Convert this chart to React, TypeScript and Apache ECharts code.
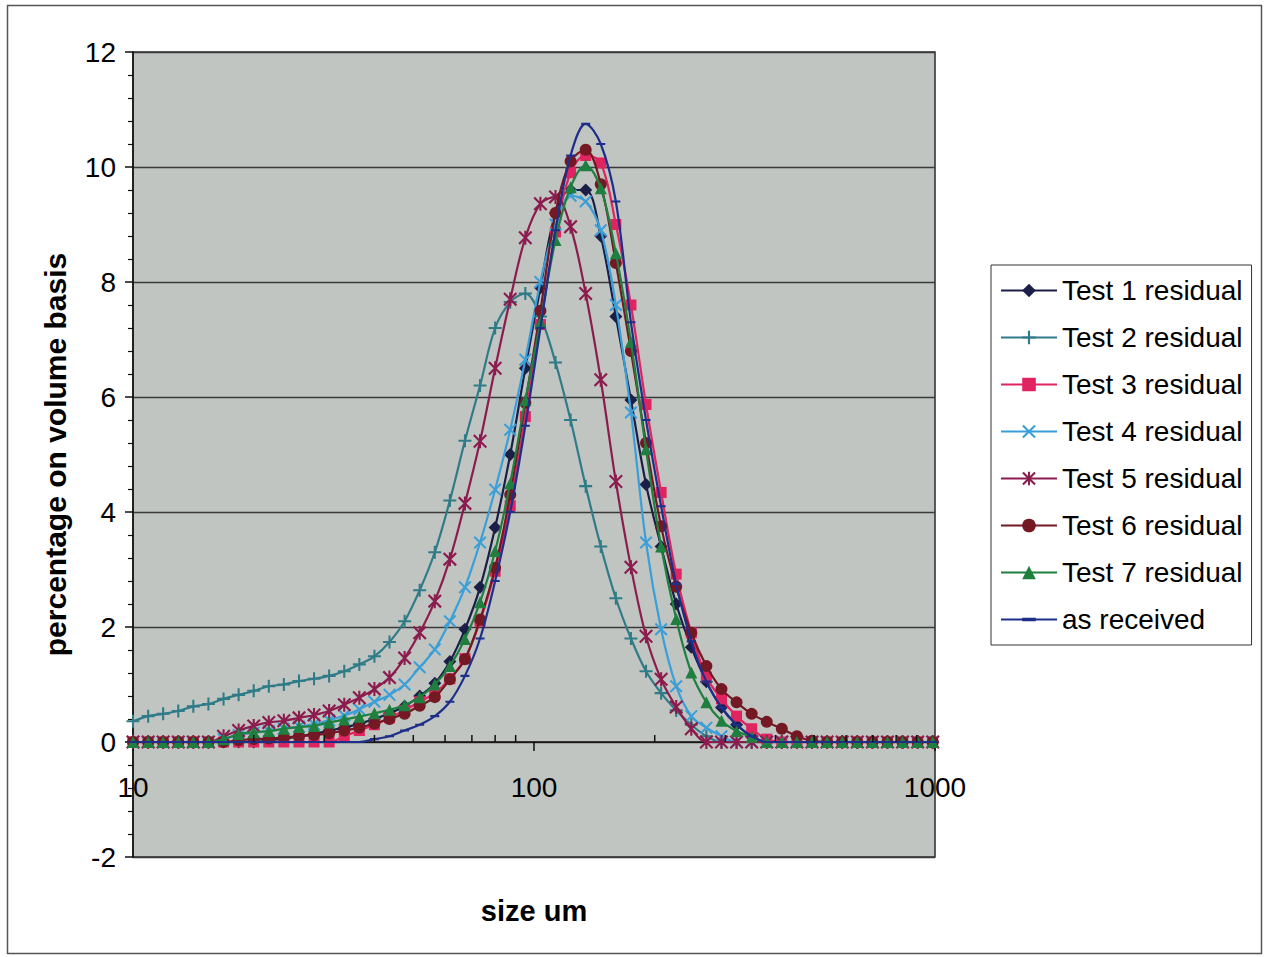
import React, { useEffect, useRef } from "react";
import * as echarts from "echarts";

const sizes = [
  10.0, 10.91, 11.89, 12.97, 14.14, 15.42, 16.82, 18.34, 20.0, 21.81,
  23.78, 25.94, 28.28, 30.84, 33.64, 36.68, 40.0, 43.62, 47.57, 51.87,
  56.57, 61.69, 67.27, 73.36, 80.0, 87.24, 95.14, 103.75, 113.14, 123.38,
  134.54, 146.72, 160.0, 174.48, 190.27, 207.5, 226.27, 246.75, 269.09, 293.44,
  320.0, 348.97, 380.55, 415.0, 452.55, 493.5, 538.17, 586.89, 640.0, 697.92,
  761.08, 829.99, 905.1, 987.02,
];

const test1 = [
  0, 0, 0, 0, 0, 0, 0, 0, 0,
  0.03, 0.06, 0.1, 0.14, 0.2, 0.25, 0.32, 0.4, 0.5, 0.62,
  0.8, 1.02, 1.4, 1.96, 2.69, 3.73, 5.0, 6.5, 7.9, 9.2,
  9.6, 9.6, 8.8, 7.4, 5.95, 4.48, 3.4, 2.4, 1.65, 1.05,
  0.6, 0.3, 0.1,
  0, 0, 0, 0, 0, 0, 0, 0, 0, 0, 0, 0,
];
const test2 = [
  0.36, 0.45, 0.49, 0.54, 0.62, 0.66, 0.75, 0.82, 0.89, 0.97,
  1.0, 1.06, 1.1, 1.15, 1.23, 1.35, 1.49, 1.74, 2.1, 2.64,
  3.3, 4.2, 5.24, 6.2, 7.2, 7.65, 7.8, 7.4, 6.6, 5.6,
  4.45, 3.4, 2.5, 1.8, 1.23, 0.85, 0.55, 0.3, 0.1,
  0, 0, 0, 0, 0, 0, 0, 0, 0, 0, 0, 0, 0, 0, 0,
];
const test3 = [
  0, 0, 0, 0, 0, 0, 0, 0, 0, 0, 0, 0, 0, 0,
  0.1, 0.2, 0.3, 0.42, 0.55, 0.7, 0.85, 1.1, 1.45, 2.1,
  2.97, 4.11, 5.66, 7.26, 8.87, 9.9, 10.2, 10.07, 9.0, 7.6,
  5.87, 4.34, 2.92, 1.9, 1.13, 0.75, 0.45, 0.23, 0.05,
  0, 0, 0, 0, 0, 0, 0, 0, 0, 0, 0,
];
const test4 = [
  0, 0, 0, 0, 0, 0,
  0.05, 0.12, 0.16, 0.19, 0.23, 0.27, 0.31, 0.38, 0.46, 0.57,
  0.7, 0.82, 1.0, 1.3, 1.61, 2.1, 2.69, 3.47, 4.39, 5.43,
  6.65, 8.0, 9.0, 9.5, 9.4, 8.9, 7.6, 5.73, 3.47, 1.96,
  0.97, 0.45, 0.25, 0.1,
  0, 0, 0, 0, 0, 0, 0, 0, 0, 0, 0, 0, 0, 0,
];
const test5 = [
  0, 0, 0, 0, 0, 0,
  0.1, 0.2, 0.28, 0.34, 0.37, 0.42, 0.47, 0.54, 0.65, 0.77,
  0.92, 1.12, 1.46, 1.9, 2.45, 3.18, 4.15, 5.23, 6.5, 7.7,
  8.77, 9.36, 9.48, 8.96, 7.8, 6.3, 4.53, 3.04, 1.84, 1.09,
  0.61, 0.23,
  0, 0, 0, 0, 0, 0, 0, 0, 0, 0, 0, 0, 0, 0, 0, 0,
];
const test6 = [
  0, 0, 0, 0, 0, 0, 0,
  0.03, 0.05, 0.06, 0.08, 0.1, 0.12, 0.15, 0.2, 0.25, 0.32,
  0.4, 0.49, 0.63, 0.78, 1.09, 1.44, 2.13, 3.03, 4.3, 5.9,
  7.5, 9.2, 10.1, 10.3, 9.7, 8.33, 6.8, 5.2, 3.75, 2.7,
  1.9, 1.32, 0.92, 0.69, 0.49, 0.35, 0.23, 0.1, 0.02,
  0, 0, 0, 0, 0, 0, 0, 0,
];
const test7 = [
  0, 0, 0, 0, 0, 0,
  0.05, 0.14, 0.17, 0.19, 0.23, 0.26, 0.28, 0.34, 0.39, 0.44,
  0.5, 0.56, 0.64, 0.78, 1.0, 1.32, 1.79, 2.43, 3.32, 4.5,
  5.95, 7.3, 8.73, 9.65, 10.03, 9.63, 8.5, 6.96, 5.09, 3.4,
  2.14, 1.21, 0.69, 0.37, 0.19, 0.09,
  0, 0, 0, 0, 0, 0, 0, 0, 0, 0, 0, 0,
];
const asReceived = [
  0, 0, 0, 0, 0, 0, 0, 0, 0, 0, 0, 0, 0, 0, 0, 0,
  0.05, 0.1, 0.2, 0.3, 0.45, 0.7, 1.15, 1.8, 2.8, 4.0,
  5.5, 7.2, 8.9, 10.2, 10.75, 10.4, 9.4, 7.3, 5.6, 4.1,
  2.75, 1.75, 1.05, 0.6, 0.3, 0.1,
  0, 0, 0, 0, 0, 0, 0, 0, 0, 0, 0, 0,
];

const seriesNames = [
  "Test 1 residual",
  "Test 2 residual",
  "Test 3 residual",
  "Test 4 residual",
  "Test 5 residual",
  "Test 6 residual",
  "Test 7 residual",
  "as received",
];

const xAxisTitle = "size um";
const yAxisTitle = "percentage on volume basis";

const xMinorTicks = [20, 30, 40, 50, 60, 70, 80, 90, 200, 300, 400, 500, 600, 700, 800, 900];

const FONT = "'Liberation Sans', Arial, Helvetica, sans-serif";

const PLUS = "path://M4.2,0H5.8V4.2H10V5.8H5.8V10H4.2V5.8H0V4.2H4.2Z";
const CROSS =
  "path://M1.1,0L5,3.9L8.9,0L10,1.1L6.1,5L10,8.9L8.9,10L5,6.1L1.1,10L0,8.9L3.9,5L0,1.1Z";
const STAR =
  "path://M1.1,0L5,3.9L8.9,0L10,1.1L6.1,5L10,8.9L8.9,10L5,6.1L1.1,10L0,8.9L3.9,5L0,1.1Z M4.25,0H5.75V10H4.25Z";
const DASH = "path://M0,0L0.01,0M0,3.8H10V6.2H0ZM10,10L9.99,10";

export default function App() {
  const ref = useRef<HTMLDivElement>(null);

  useEffect(() => {
    if (!ref.current) return;
    const chart = echarts.init(ref.current, undefined, { renderer: "svg" });

    const values = [test1, test2, test3, test4, test5, test6, test7, asReceived];
    const colors = ["#1b1f48", "#2f7b88", "#e0245f", "#3a9fd8", "#8c1c4e", "#741824", "#1f7f3f", "#1d2f8a"];
    const symbols: any[] = ["diamond", PLUS, "rect", CROSS, STAR, "circle", "triangle", DASH];
    const symSizes: any[] = [13, 13, 11, 13, 14, 12, 12, 9];

    const lineSeries = seriesNames.map((name, i) => ({
      name,
      type: "line",
      data: sizes.map((s, j) => [s, values[i][j]]),
      smooth: 0.35,
      symbol: symbols[i],
      symbolSize: symSizes[i],
      showSymbol: true,
      showAllSymbol: true,
      lineStyle: { color: colors[i], width: 2.2 },
      itemStyle: { color: colors[i], borderWidth: 0 },
      z: 3 + i,
    }));

    const tickSeries = {
      type: "custom",
      silent: true,
      clip: false,
      z: 20,
      data: xMinorTicks.map((v) => [v, 0]),
      renderItem: (_params: any, api: any) => {
        const p = api.coord([api.value(0), api.value(1)]);
        return {
          type: "line",
          shape: { x1: p[0], y1: p[1], x2: p[0], y2: p[1] - 7 },
          style: { stroke: "#111", lineWidth: 1.5 },
        };
      },
    };

    const axisLineStyle = { color: "#111", width: 1.5 };

    chart.setOption({
      animation: false,
      backgroundColor: "#ffffff",
      grid: {
        left: 133,
        top: 52,
        width: 802,
        height: 805,
        containLabel: false,
        outerBoundsMode: "none",
        show: true,
        backgroundColor: "#c0c5c1",
        borderColor: "#2a2a2a",
        borderWidth: 1.5,
      },
      xAxis: {
        type: "log",
        logBase: 10,
        min: 10,
        max: 1000,
        axisLine: { show: true, onZero: true, lineStyle: axisLineStyle },
        axisTick: { show: true, length: 9, lineStyle: axisLineStyle },
        axisLabel: {
          fontFamily: FONT,
          fontSize: 28,
          color: "#000",
          margin: -84,
          formatter: (v: number) => String(Math.round(v)),
        },
        splitLine: { show: false },
      },
      yAxis: {
        type: "value",
        min: -2,
        max: 12,
        interval: 2,
        name: yAxisTitle,
        nameLocation: "middle",
        nameGap: 63,
        nameTextStyle: { fontFamily: FONT, fontSize: 30, fontWeight: "bold", color: "#000" },
        axisLine: { show: true, onZero: false, lineStyle: axisLineStyle },
        axisTick: { show: true, length: 8, lineStyle: axisLineStyle },
        minorTick: { show: true, splitNumber: 5, length: 5, lineStyle: { color: "#111", width: 1.2 } },
        splitLine: { show: true, lineStyle: { color: "#3a3a3a", width: 1.3 } },
        axisLabel: { fontFamily: FONT, fontSize: 28, color: "#000", margin: 17 },
      },
      legend: {
        data: seriesNames,
        orient: "vertical",
        left: 991,
        top: 265,
        itemWidth: 56,
        itemHeight: 17,
        itemGap: 14,
        padding: [9, 9, 9, 9],
        borderColor: "#333",
        borderWidth: 1,
        backgroundColor: "#ffffff",
        textStyle: { fontFamily: FONT, fontSize: 28, color: "#000", lineHeight: 33 },
      },
      graphic: [
        {
          type: "rect",
          shape: { x: 7.5, y: 5.5, width: 1254, height: 948 },
          style: { fill: "none", stroke: "#555", lineWidth: 1.5 },
          silent: true,
          z: -1,
        },
        {
          type: "text",
          x: 534,
          y: 911,
          silent: true,
          style: {
            text: xAxisTitle,
            fontFamily: FONT,
            fontSize: 29,
            fontWeight: "bold",
            fill: "#000",
            align: "center",
            verticalAlign: "middle",
          },
        },
      ],
      series: [...lineSeries, tickSeries],
    });

    return () => chart.dispose();
  }, []);

  return (
    <div
      ref={ref}
      style={{ position: "absolute", left: 0, top: 0, width: 1264, height: 957 }}
    />
  );
}
